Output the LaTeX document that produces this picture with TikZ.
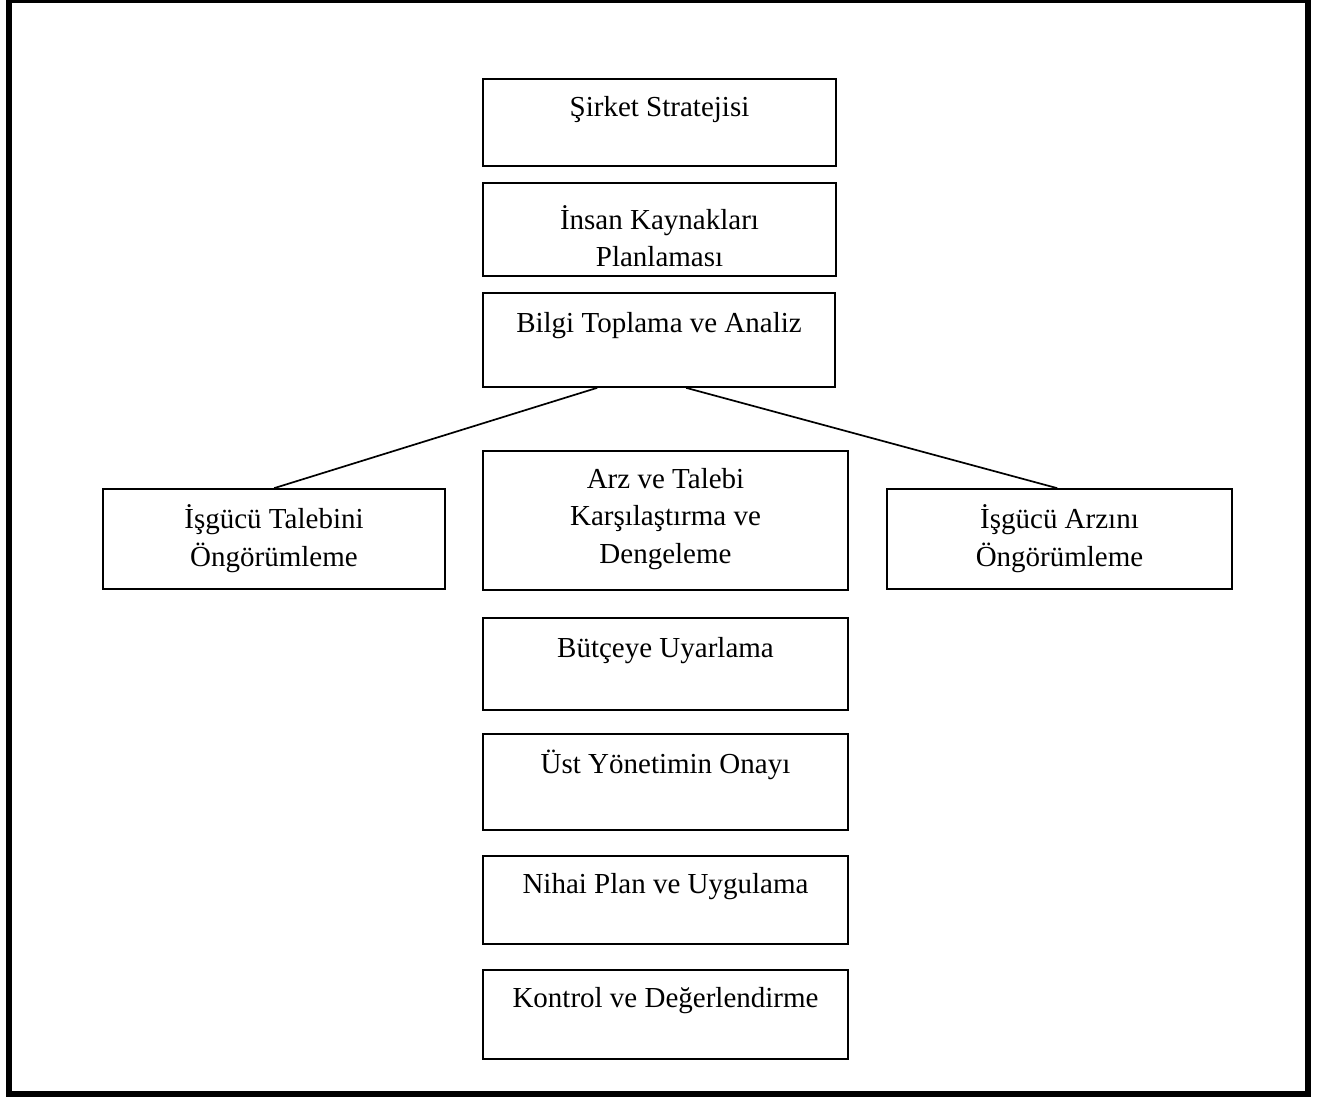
\documentclass[tikz,border=0pt]{standalone}
\usepackage{fontspec}
\setmainfont{Liberation Serif}
\usetikzlibrary{calc}
\tikzset{
  box/.style={draw, line width=1.7pt, rectangle, inner sep=0pt},
  lbl/.style={font=\fontsize{29}{37.5}\selectfont, align=center, inner sep=0pt, anchor=base},
  conn/.style={line width=1.7pt}
}
\begin{document}
\begin{tikzpicture}[x=1pt,y=-1pt]
\useasboundingbox (0,0) rectangle (1336,1099);
\draw[line width=6pt] (9,0) rectangle (1307.5,1094);
% boxes
\node[box, minimum width=353, minimum height=87] (b1) at (659.5,122.5) {};
\node[box, minimum width=353, minimum height=93] (b2) at (659.5,229.5) {};
\node[box, minimum width=352, minimum height=94] (b3) at (659,340) {};
\node[box, minimum width=342, minimum height=100] (b4) at (274,539) {};
\node[box, minimum width=365, minimum height=139] (b5) at (665.5,520.5) {};
\node[box, minimum width=345, minimum height=100] (b6) at (1059.5,539) {};
\node[box, minimum width=365, minimum height=92] (b7) at (665.5,664) {};
\node[box, minimum width=365, minimum height=96] (b8) at (665.5,782) {};
\node[box, minimum width=365, minimum height=88] (b9) at (665.5,900) {};
\node[box, minimum width=365, minimum height=89] (b10) at (665.5,1014.5) {};
% labels (base anchor = baseline of last line)
\node[lbl] (t1) at (659.5,117) {Şirket Stratejisi};
\node[lbl] (t2) at (659.5,267) {İnsan Kaynakları\\Planlaması};
\node[lbl] (t3) at (659,332) {Bilgi Toplama ve Analiz};
\node[lbl] (t4) at (274,566) {İşgücü Talebini\\Öngörümleme};
\node[lbl] (t5) at (665.5,563) {Arz ve Talebi\\Karşılaştırma ve\\Dengeleme};
\node[lbl] (t6) at (1059.5,566) {İşgücü Arzını\\Öngörümleme};
\node[lbl] (t7) at (665.5,657) {Bütçeye Uyarlama};
\node[lbl] (t8) at (665.5,773) {Üst Yönetimin Onayı};
\node[lbl] (t9) at (665.5,893) {Nihai Plan ve Uygulama};
\node[lbl] (t10) at (665.5,1007) {Kontrol ve Değerlendirme};
% connectors
\draw[conn] ($(b3.south west)+(115,0)$) -- ($(b4.north west)+(172,0)$);
\draw[conn] ($(b3.south west)+(204,0)$) -- ($(b6.north west)+(171,0)$);
\end{tikzpicture}
\end{document}
